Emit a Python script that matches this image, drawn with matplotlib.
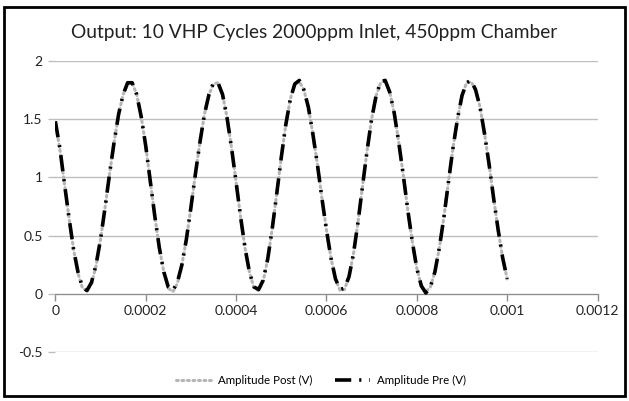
import numpy as np
import matplotlib.pyplot as plt
from matplotlib.patches import Rectangle

# time axis (s), one reading every 10 us
t = [i * 1e-5 for i in range(101)]

amp_pre = [1.48, 1.25, 0.95, 0.66, 0.39, 0.19, 0.06, 0.03, 0.10, 0.25,
           0.47, 0.74, 1.03, 1.30, 1.54, 1.71, 1.81, 1.81, 1.71, 1.52,
           1.27, 0.97, 0.67, 0.40, 0.19, 0.06, 0.03, 0.10, 0.25, 0.47,
           0.74, 1.03, 1.30, 1.54, 1.71, 1.81, 1.81, 1.71, 1.51, 1.25,
           0.96, 0.66, 0.39, 0.18, 0.06, 0.04, 0.12, 0.30, 0.56, 0.86,
           1.17, 1.45, 1.67, 1.80, 1.83, 1.75, 1.60, 1.37, 1.11, 0.82,
           0.55, 0.31, 0.13, 0.04, 0.05, 0.15, 0.35, 0.62, 0.93, 1.23,
           1.50, 1.70, 1.82, 1.83, 1.73, 1.55, 1.30, 1.02, 0.72, 0.45,
           0.22, 0.07, 0.01, 0.06, 0.19, 0.40, 0.66, 0.96, 1.25, 1.50,
           1.70, 1.81, 1.83, 1.75, 1.60, 1.37, 1.11, 0.82, 0.55, 0.31,
           0.13]

amp_post = [1.47, 1.24, 0.95, 0.66, 0.39, 0.18, 0.05, 0.03, 0.09, 0.24,
            0.47, 0.74, 1.03, 1.30, 1.54, 1.71, 1.80, 1.81, 1.71, 1.52,
            1.27, 0.97, 0.67, 0.40, 0.19, 0.05, 0.02, 0.09, 0.25, 0.47,
            0.74, 1.03, 1.30, 1.54, 1.71, 1.80, 1.81, 1.71, 1.51, 1.25,
            0.96, 0.66, 0.39, 0.18, 0.05, 0.03, 0.11, 0.30, 0.56, 0.86,
            1.17, 1.45, 1.67, 1.80, 1.82, 1.75, 1.60, 1.37, 1.11, 0.82,
            0.55, 0.31, 0.13, 0.03, 0.04, 0.15, 0.35, 0.62, 0.93, 1.23,
            1.50, 1.70, 1.81, 1.83, 1.73, 1.55, 1.30, 1.02, 0.72, 0.45,
            0.22, 0.07, 0.02, 0.06, 0.19, 0.40, 0.66, 0.96, 1.25, 1.50,
            1.70, 1.81, 1.82, 1.75, 1.60, 1.37, 1.11, 0.82, 0.55, 0.31,
            0.13]

xticks = [0, 0.0002, 0.0004, 0.0006, 0.0008, 0.001, 0.0012]
xlabels = ['0', '0.0002', '0.0004', '0.0006', '0.0008', '0.001', '0.0012']
yticks = [-0.5, 0, 0.5, 1, 1.5, 2]
ylabels = ['-0.5', '0', '0.5', '1', '1.5', '2']

plt.rcParams['font.family'] = ['Lato', 'DejaVu Sans']

fig = plt.figure(figsize=(6.29, 4.01), dpi=100)
fig.patches.append(Rectangle((0.007, 0.012), 0.987, 0.970, transform=fig.transFigure,
                             fill=False, edgecolor='black', linewidth=2))
ax = fig.add_axes([0.088, 0.121, 0.862, 0.728])

ax.plot(t, amp_post, color='#B5B5B5', linestyle=(0, (0.6, 1.2)), linewidth=2.2,
        dash_capstyle='round', label='Amplitude Post (V)', zorder=3)
ax.plot(t, amp_pre, color='black', linestyle=(0, (4.5, 2.2, 0.6, 2.2)), linewidth=2.6,
        label='Amplitude Pre (V)', zorder=4)

ax.set_xlim(0, 0.0012)
ax.set_ylim(-0.5, 2)
ax.set_xticks(xticks)
ax.set_xticklabels(xlabels)
ax.set_yticks(yticks)
ax.set_yticklabels(ylabels)

ax.grid(axis='y', color='#BFBFBF', linewidth=1)
ax.set_axisbelow(True)
for s in ['top', 'right', 'left']:
    ax.spines[s].set_visible(False)
ax.spines['bottom'].set_position(('data', 0))
ax.spines['bottom'].set_color('#8C8C8C')
ax.tick_params(axis='x', colors='#8C8C8C', length=5, width=1, labelcolor='#222222',
               labelsize=10, pad=3)
ax.tick_params(axis='y', colors='#BFBFBF', length=5, width=1, labelcolor='#222222',
               labelsize=10, pad=4)

fig.text(0.5, 0.92, 'Output: 10 VHP Cycles 2000ppm Inlet, 450ppm Chamber',
         ha='center', va='center', fontsize=13.8, color='#222222')

fig.legend(loc='center', bbox_to_anchor=(0.51, 0.052), ncol=2, frameon=False,
           fontsize=8.3, handlelength=3.0, handletextpad=0.6, columnspacing=2.0)

fig.savefig('out.png', dpi=100)
